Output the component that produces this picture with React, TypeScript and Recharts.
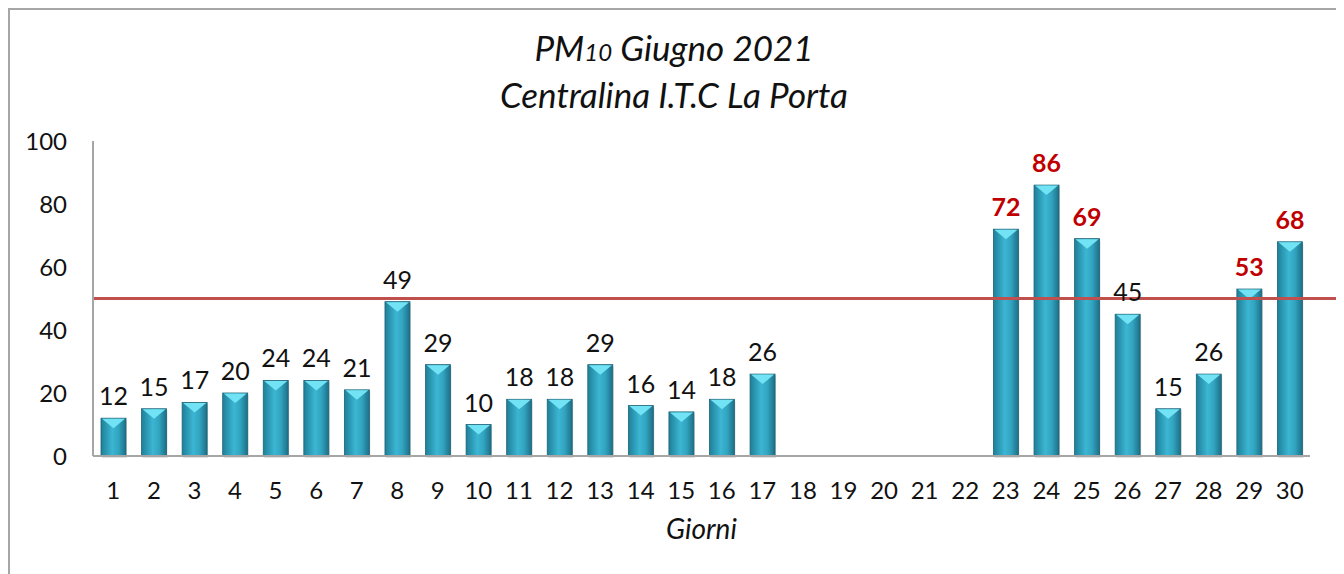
import { BarChart, Bar, XAxis, YAxis, ReferenceLine, LabelList } from "recharts";

const giorni = Array.from({ length: 30 }, (_, i) => String(i + 1));
const pm10: (number | null)[] = [
  12, 15, 17, 20, 24, 24, 21, 49, 29, 10, 18, 18, 29, 16, 14, 18, 26,
  null, null, null, null, null,
  72, 86, 69, 45, 15, 26, 53, 68,
];
const limite = 50;
const yTicks = [0, 20, 40, 60, 80, 100];

const data = giorni.map((g, i) => ({ giorno: g, valore: pm10[i] }));

const FONT = "Lato, 'DejaVu Sans', sans-serif";

const BarShape = (props: any) => {
  const { x, y, width, height } = props;
  if (!height || height <= 0) return null;
  const tri = Math.min(10, height);
  return (
    <g>
      <rect x={x + 1} y={y + 2} width={width} height={height} fill="#000" opacity={0.12} />
      <rect x={x} y={y} width={width} height={height} fill="url(#barGrad)" stroke="#1d6376" strokeWidth={0.8} />
      <polygon
        points={`${x + 1},${y + 0.5} ${x + width - 1},${y + 0.5} ${x + width / 2},${y + tri}`}
        fill="#72e3f4"
      />
    </g>
  );
};

const ValueLabel = (props: any) => {
  const { x, y, width, value } = props;
  if (value == null) return null;
  const over = value > limite;
  return (
    <text
      x={x + width / 2}
      y={y - 13}
      textAnchor="middle"
      fontFamily={FONT}
      fontSize={25}
      fontWeight={over ? 700 : 400}
      fill={over ? "#c00000" : "#111"}
    >
      {value}
    </text>
  );
};

const LimitLine = (props: any) => {
  const { x1, y1, y2 } = props;
  return <line x1={x1} y1={y1} x2={1328} y2={y2} stroke="#c0504d" strokeWidth={3} />;
};

const AxisTitle = (props: any) => {
  const { viewBox } = props;
  return (
    <text
      x={viewBox.x + viewBox.width / 2}
      y={viewBox.y + 83}
      textAnchor="middle"
      fontFamily={FONT}
      fontSize={28}
      fontStyle="italic"
      fill="#111"
    >
      Giorni
    </text>
  );
};

export default function App() {
  return (
    <div
      style={{
        position: "relative",
        width: 1328,
        height: 580,
        borderLeft: "2px solid #a6a6a6",
        borderRight: "2px solid #a6a6a6",
        borderTop: "2px solid #a6a6a6",
        background: "#fff",
        fontFamily: FONT,
      }}
    >
      <div
        style={{
          position: "absolute",
          left: 0,
          width: 1328,
          top: 16,
          textAlign: "center",
          fontStyle: "italic",
          fontSize: 35,
          lineHeight: "42px",
          color: "#111",
        }}
      >
        <div>
          PM<span style={{ fontSize: 24 }}>10</span> Giugno 2021
        </div>
        <div>Centralina I.T.C La Porta</div>
      </div>
      <BarChart
        width={1328}
        height={570}
        data={data}
        margin={{ top: 131, right: 28, bottom: 0, left: 0 }}
        barSize={25}
      >
        <defs>
          <linearGradient id="barGrad" x1="0" y1="0" x2="1" y2="0">
            <stop offset="0%" stopColor="#1f7f98" />
            <stop offset="45%" stopColor="#3bb6d3" />
            <stop offset="70%" stopColor="#32a4c0" />
            <stop offset="100%" stopColor="#1c6f86" />
          </linearGradient>
        </defs>
        <XAxis
          dataKey="giorno"
          height={124}
          tickLine={false}
          axisLine={{ stroke: "#a6a6a6", strokeWidth: 2 }}
          tick={{ fill: "#111", fontSize: 24, fontFamily: FONT }}
          tickMargin={20}
          interval={0}
          label={<AxisTitle />}
        />
        <YAxis
          domain={[0, 100]}
          ticks={yTicks}
          width={83}
          tickLine={false}
          axisLine={{ stroke: "#a6a6a6", strokeWidth: 2 }}
          tick={{ fill: "#111", fontSize: 24, fontFamily: FONT }}
          tickMargin={20}
        />
        <Bar dataKey="valore" shape={<BarShape />} isAnimationActive={false}>
          <LabelList dataKey="valore" content={<ValueLabel />} />
        </Bar>
        <ReferenceLine y={limite} shape={<LimitLine />} ifOverflow="visible" />
      </BarChart>
    </div>
  );
}
